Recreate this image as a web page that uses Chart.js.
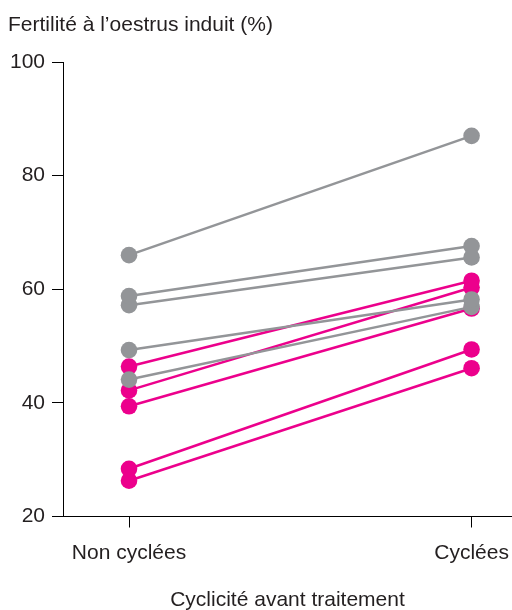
<!DOCTYPE html>
<html>
<head>
<meta charset="utf-8">
<script src="https://cdn.jsdelivr.net/npm/chart.js@4"></script>
<style>
  html, body { margin: 0; padding: 0; background: #fff; }
  #wrap { width: 512px; height: 610px; }
</style>
</head>
<body>
<div id="wrap"><canvas id="myChart"></canvas></div>
<script>
const categories = ['Non cyclées', 'Cyclées'];
const yTicks = [20, 40, 60, 80, 100];

// one pair [non cyclées, cyclées] per line
const grayLines = [
  [66.0, 87.0],
  [58.8, 67.6],
  [57.2, 65.6],
  [49.3, 58.2],
  [44.1, 56.9]
];
const pinkLines = [
  [46.4, 61.5],
  [42.2, 60.3],
  [39.4, 56.6],
  [28.4, 49.4],
  [26.3, 46.1]
];

const GRAY = '#939598';
const PINK = '#ec008c';
const TEXT = '#231f20';
const FONT = 'Liberation Sans';

function makeSet(pair, color) {
  return {
    data: pair.map((v, i) => ({ x: i, y: v })),
    borderColor: color,
    backgroundColor: color,
    borderWidth: 2.5,
    pointRadius: 8.3,
    pointHoverRadius: 8.3,
    pointBorderWidth: 0,
    fill: false
  };
}

// gray first so it ends up on top
const datasets = grayLines.map(p => makeSet(p, GRAY))
  .concat(pinkLines.map(p => makeSet(p, PINK)));

const ctx = document.getElementById('myChart').getContext('2d');
new Chart(ctx, {
  type: 'line',
  data: { datasets: datasets },
  options: {
    responsive: true,
    maintainAspectRatio: false,
    animation: false,
    layout: { autoPadding: false, padding: { left: 8, right: 0, top: 0, bottom: 0 } },
    plugins: {
      legend: { display: false },
      tooltip: { enabled: false },
      title: {
        display: true,
        text: 'Fertilité à l\u2019oestrus induit (%)',
        align: 'start',
        color: TEXT,
        font: { family: FONT, size: 21, weight: 'normal', lineHeight: 1.2 },
        padding: { top: 13, bottom: 23.8 }
      }
    },
    scales: {
      x: {
        type: 'linear',
        min: -0.1927,
        max: 1.118,
        afterBuildTicks: s => { s.ticks = categories.map((c, i) => ({ value: i })); },
        afterFit: s => { s.height = 93.5; s.paddingLeft = 0; s.paddingRight = 0; },
        grid: { display: true, drawOnChartArea: false, drawTicks: true, tickLength: 11, color: '#000', lineWidth: 1 },
        border: { display: true, color: '#000', width: 1 },
        ticks: {
          color: TEXT,
          padding: 13,
          maxRotation: 0,
          font: { family: FONT, size: 21 },
          callback: v => categories[v]
        },
        title: {
          display: true,
          text: 'Cyclicité avant traitement',
          color: TEXT,
          font: { family: FONT, size: 21, lineHeight: 1 },
          padding: { top: 0, bottom: -1 }
        }
      },
      y: {
        min: 20,
        max: 100,
        afterBuildTicks: s => { s.ticks = yTicks.map(v => ({ value: v })); },
        afterFit: s => { s.width = 55; },
        grid: { display: true, drawOnChartArea: false, drawTicks: true, tickLength: 11, color: '#000', lineWidth: 1 },
        border: { display: true, color: '#000', width: 1 },
        ticks: {
          color: TEXT,
          padding: 7,
          font: { family: FONT, size: 21 }
        }
      }
    }
  }
});
</script>
</body>
</html>
